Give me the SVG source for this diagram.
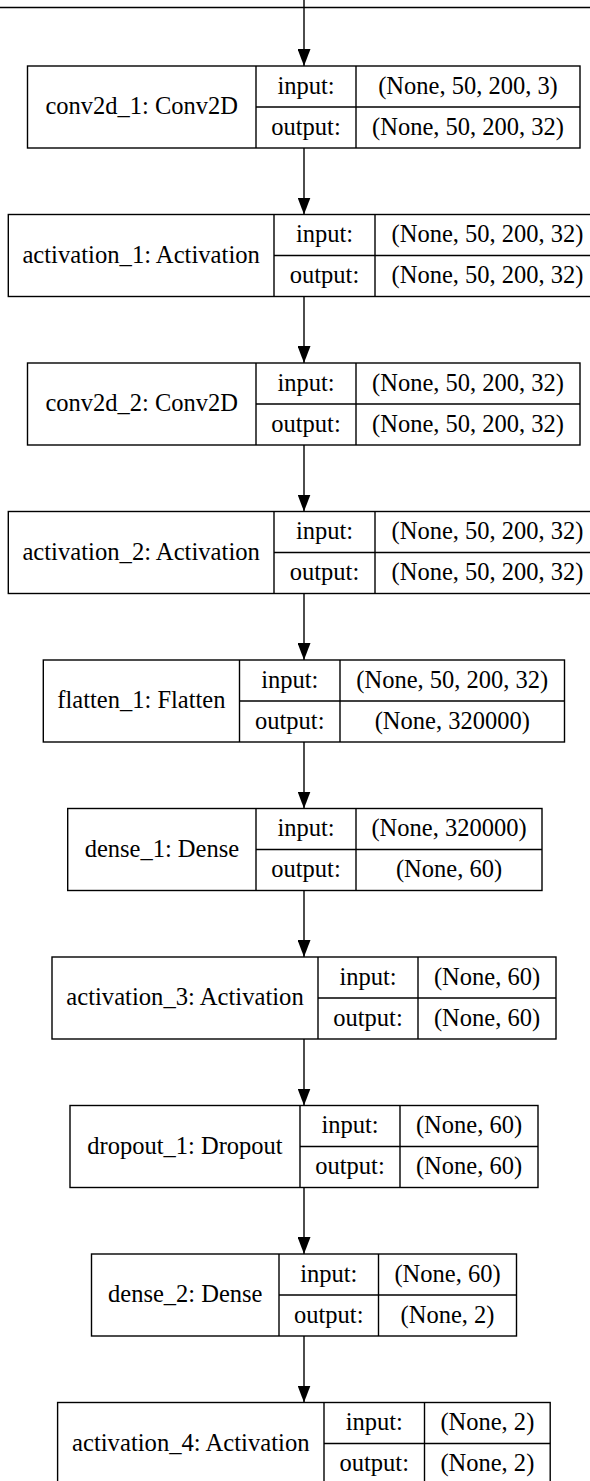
<svg xmlns="http://www.w3.org/2000/svg" width="590" height="1481" viewBox="0 0 590 1481">
<style>
rect,line.d{fill:#fff;stroke:#000;stroke-width:1.4}
line.d{fill:none}
.e{stroke:#000;stroke-width:1.4;fill:none}
text{font-family:"Liberation Serif","Times New Roman",serif;font-size:24.5px;fill:#000;text-anchor:middle}
</style>
<defs>
<marker id="ah" markerUnits="userSpaceOnUse" markerWidth="17" markerHeight="13" refX="17" refY="6.5" orient="auto" viewBox="0 0 17 13">
<path d="M0,0 L17,6.5 L0,13 Z" fill="#000"/>
</marker>
</defs>
<rect x="0" y="0" width="590" height="1481" style="stroke:none"/>
<line x1="0" y1="7.5" x2="590" y2="7.5" style="stroke:#000;stroke-width:1.4"/>
<g id="connectors">
<line class="e" x1="304" y1="0" x2="304" y2="66" marker-end="url(#ah)"/>
<line class="e" x1="304" y1="148" x2="304" y2="214.5" marker-end="url(#ah)"/>
<line class="e" x1="304" y1="296.5" x2="304" y2="363" marker-end="url(#ah)"/>
<line class="e" x1="304" y1="445" x2="304" y2="511.5" marker-end="url(#ah)"/>
<line class="e" x1="304" y1="593.5" x2="304" y2="660" marker-end="url(#ah)"/>
<line class="e" x1="304" y1="742" x2="304" y2="808.5" marker-end="url(#ah)"/>
<line class="e" x1="304" y1="890.5" x2="304" y2="957" marker-end="url(#ah)"/>
<line class="e" x1="304" y1="1039" x2="304" y2="1105.5" marker-end="url(#ah)"/>
<line class="e" x1="304" y1="1187.5" x2="304" y2="1254" marker-end="url(#ah)"/>
<line class="e" x1="304" y1="1336" x2="304" y2="1402.5" marker-end="url(#ah)"/>
</g>
<g id="conv2d_1">
<rect x="27.5" y="66" width="552.5" height="82"/>
<line class="d" x1="256" y1="66" x2="256" y2="148"/><line class="d" x1="356" y1="66" x2="356" y2="148"/><line class="d" x1="256" y1="107" x2="580" y2="107"/>
<text x="141.75" y="114" textLength="192.6" lengthAdjust="spacingAndGlyphs">conv2d_1: Conv2D</text>
<text x="306" y="93.5" textLength="57.2" lengthAdjust="spacingAndGlyphs">input:</text><text x="306" y="134.5" textLength="69.4" lengthAdjust="spacingAndGlyphs">output:</text>
<text x="468" y="93.5" textLength="179.6" lengthAdjust="spacingAndGlyphs">(None, 50, 200, 3)</text><text x="468" y="134.5" textLength="191.9" lengthAdjust="spacingAndGlyphs">(None, 50, 200, 32)</text>
</g>
<g id="activation_1">
<rect x="8.3" y="214.5" width="591.4" height="82"/>
<line class="d" x1="274" y1="214.5" x2="274" y2="296.5"/><line class="d" x1="375" y1="214.5" x2="375" y2="296.5"/><line class="d" x1="274" y1="255.5" x2="600" y2="255.5"/>
<text x="141.15" y="262.5" textLength="237.5" lengthAdjust="spacingAndGlyphs">activation_1: Activation</text>
<text x="324.5" y="242" textLength="57.2" lengthAdjust="spacingAndGlyphs">input:</text><text x="324.5" y="283" textLength="69.4" lengthAdjust="spacingAndGlyphs">output:</text>
<text x="487.5" y="242" textLength="191.9" lengthAdjust="spacingAndGlyphs">(None, 50, 200, 32)</text><text x="487.5" y="283" textLength="191.9" lengthAdjust="spacingAndGlyphs">(None, 50, 200, 32)</text>
</g>
<g id="conv2d_2">
<rect x="27.5" y="363" width="552.5" height="82"/>
<line class="d" x1="256" y1="363" x2="256" y2="445"/><line class="d" x1="356" y1="363" x2="356" y2="445"/><line class="d" x1="256" y1="404" x2="580" y2="404"/>
<text x="141.75" y="411" textLength="192.6" lengthAdjust="spacingAndGlyphs">conv2d_2: Conv2D</text>
<text x="306" y="390.5" textLength="57.2" lengthAdjust="spacingAndGlyphs">input:</text><text x="306" y="431.5" textLength="69.4" lengthAdjust="spacingAndGlyphs">output:</text>
<text x="468" y="390.5" textLength="191.9" lengthAdjust="spacingAndGlyphs">(None, 50, 200, 32)</text><text x="468" y="431.5" textLength="191.9" lengthAdjust="spacingAndGlyphs">(None, 50, 200, 32)</text>
</g>
<g id="activation_2">
<rect x="8.3" y="511.5" width="591.4" height="82"/>
<line class="d" x1="274" y1="511.5" x2="274" y2="593.5"/><line class="d" x1="375" y1="511.5" x2="375" y2="593.5"/><line class="d" x1="274" y1="552.5" x2="600" y2="552.5"/>
<text x="141.15" y="559.5" textLength="237.5" lengthAdjust="spacingAndGlyphs">activation_2: Activation</text>
<text x="324.5" y="539" textLength="57.2" lengthAdjust="spacingAndGlyphs">input:</text><text x="324.5" y="580" textLength="69.4" lengthAdjust="spacingAndGlyphs">output:</text>
<text x="487.5" y="539" textLength="191.9" lengthAdjust="spacingAndGlyphs">(None, 50, 200, 32)</text><text x="487.5" y="580" textLength="191.9" lengthAdjust="spacingAndGlyphs">(None, 50, 200, 32)</text>
</g>
<g id="flatten_1">
<rect x="43.3" y="660" width="521.2" height="82"/>
<line class="d" x1="239.5" y1="660" x2="239.5" y2="742"/><line class="d" x1="340" y1="660" x2="340" y2="742"/><line class="d" x1="239.5" y1="701" x2="564.5" y2="701"/>
<text x="141.4" y="708" textLength="168.1" lengthAdjust="spacingAndGlyphs">flatten_1: Flatten</text>
<text x="289.75" y="687.5" textLength="57.2" lengthAdjust="spacingAndGlyphs">input:</text><text x="289.75" y="728.5" textLength="69.4" lengthAdjust="spacingAndGlyphs">output:</text>
<text x="452.25" y="687.5" textLength="191.9" lengthAdjust="spacingAndGlyphs">(None, 50, 200, 32)</text><text x="452.25" y="728.5" textLength="155.1" lengthAdjust="spacingAndGlyphs">(None, 320000)</text>
</g>
<g id="dense_1">
<rect x="67.7" y="808.5" width="474.3" height="82"/>
<line class="d" x1="256" y1="808.5" x2="256" y2="890.5"/><line class="d" x1="356" y1="808.5" x2="356" y2="890.5"/><line class="d" x1="256" y1="849.5" x2="542" y2="849.5"/>
<text x="161.85" y="856.5" textLength="154.4" lengthAdjust="spacingAndGlyphs">dense_1: Dense</text>
<text x="306" y="836" textLength="57.2" lengthAdjust="spacingAndGlyphs">input:</text><text x="306" y="877" textLength="69.4" lengthAdjust="spacingAndGlyphs">output:</text>
<text x="449" y="836" textLength="155.1" lengthAdjust="spacingAndGlyphs">(None, 320000)</text><text x="449" y="877" textLength="106.1" lengthAdjust="spacingAndGlyphs">(None, 60)</text>
</g>
<g id="activation_3">
<rect x="52" y="957" width="504" height="82"/>
<line class="d" x1="318" y1="957" x2="318" y2="1039"/><line class="d" x1="418" y1="957" x2="418" y2="1039"/><line class="d" x1="318" y1="998" x2="556" y2="998"/>
<text x="185" y="1005" textLength="237.5" lengthAdjust="spacingAndGlyphs">activation_3: Activation</text>
<text x="368" y="984.5" textLength="57.2" lengthAdjust="spacingAndGlyphs">input:</text><text x="368" y="1025.5" textLength="69.4" lengthAdjust="spacingAndGlyphs">output:</text>
<text x="487" y="984.5" textLength="106.1" lengthAdjust="spacingAndGlyphs">(None, 60)</text><text x="487" y="1025.5" textLength="106.1" lengthAdjust="spacingAndGlyphs">(None, 60)</text>
</g>
<g id="dropout_1">
<rect x="70" y="1105.5" width="468" height="82"/>
<line class="d" x1="300" y1="1105.5" x2="300" y2="1187.5"/><line class="d" x1="400" y1="1105.5" x2="400" y2="1187.5"/><line class="d" x1="300" y1="1146.5" x2="538" y2="1146.5"/>
<text x="185" y="1153.5" textLength="195.3" lengthAdjust="spacingAndGlyphs">dropout_1: Dropout</text>
<text x="350" y="1133" textLength="57.2" lengthAdjust="spacingAndGlyphs">input:</text><text x="350" y="1174" textLength="69.4" lengthAdjust="spacingAndGlyphs">output:</text>
<text x="469" y="1133" textLength="106.1" lengthAdjust="spacingAndGlyphs">(None, 60)</text><text x="469" y="1174" textLength="106.1" lengthAdjust="spacingAndGlyphs">(None, 60)</text>
</g>
<g id="dense_2">
<rect x="91.5" y="1254" width="425" height="82"/>
<line class="d" x1="279" y1="1254" x2="279" y2="1336"/><line class="d" x1="378.5" y1="1254" x2="378.5" y2="1336"/><line class="d" x1="279" y1="1295" x2="516.5" y2="1295"/>
<text x="185.25" y="1302" textLength="154.4" lengthAdjust="spacingAndGlyphs">dense_2: Dense</text>
<text x="328.75" y="1281.5" textLength="57.2" lengthAdjust="spacingAndGlyphs">input:</text><text x="328.75" y="1322.5" textLength="69.4" lengthAdjust="spacingAndGlyphs">output:</text>
<text x="447.5" y="1281.5" textLength="106.1" lengthAdjust="spacingAndGlyphs">(None, 60)</text><text x="447.5" y="1322.5" textLength="93.9" lengthAdjust="spacingAndGlyphs">(None, 2)</text>
</g>
<g id="activation_4">
<rect x="57.6" y="1402.5" width="492.6" height="82"/>
<line class="d" x1="324" y1="1402.5" x2="324" y2="1484.5"/><line class="d" x1="424.5" y1="1402.5" x2="424.5" y2="1484.5"/><line class="d" x1="324" y1="1443.5" x2="550.2" y2="1443.5"/>
<text x="190.8" y="1450.5" textLength="237.5" lengthAdjust="spacingAndGlyphs">activation_4: Activation</text>
<text x="374.25" y="1430" textLength="57.2" lengthAdjust="spacingAndGlyphs">input:</text><text x="374.25" y="1471" textLength="69.4" lengthAdjust="spacingAndGlyphs">output:</text>
<text x="487.35" y="1430" textLength="93.9" lengthAdjust="spacingAndGlyphs">(None, 2)</text><text x="487.35" y="1471" textLength="93.9" lengthAdjust="spacingAndGlyphs">(None, 2)</text>
</g>
</svg>
